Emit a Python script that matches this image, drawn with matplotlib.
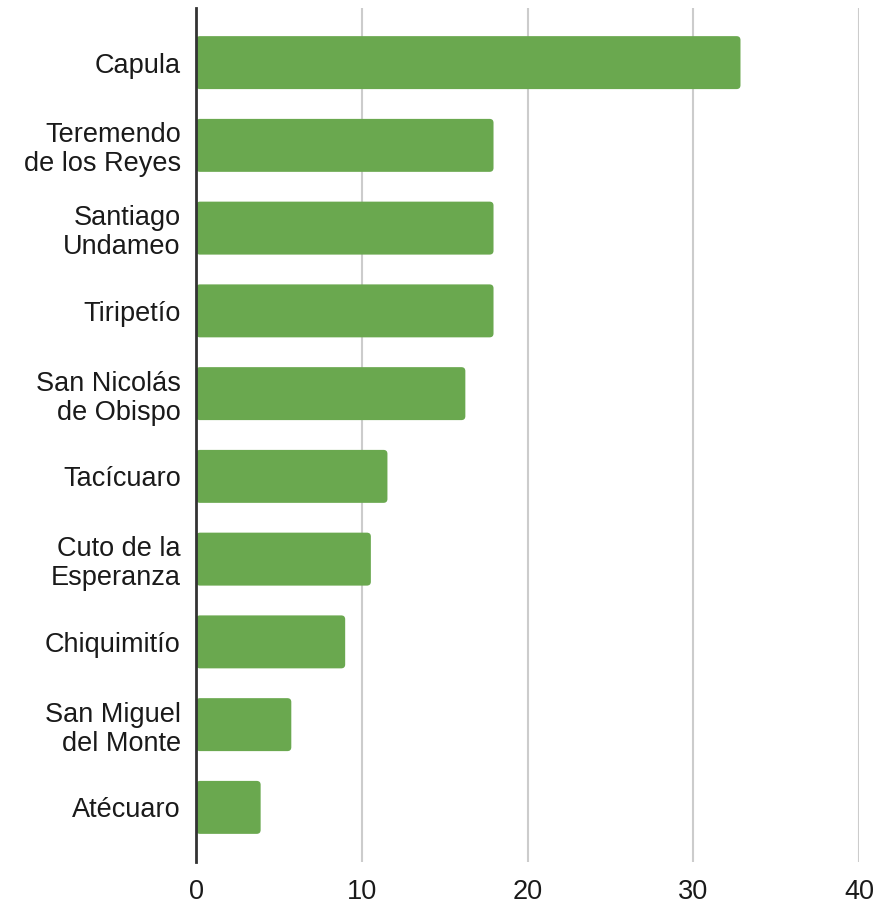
import matplotlib.pyplot as plt
from matplotlib.patches import FancyBboxPatch

localidades = [
    "Capula",
    "Teremendo\nde los Reyes",
    "Santiago\nUndameo",
    "Tiripetío",
    "San Nicolás\nde Obispo",
    "Tacícuaro",
    "Cuto de la\nEsperanza",
    "Chiquimitío",
    "San Miguel\ndel Monte",
    "Atécuaro",
]
valores = [32.85, 17.95, 17.95, 17.95, 16.25, 11.55, 10.55, 9.0, 5.75, 3.9]
xticks = [0, 10, 20, 30, 40]

plt.rcParams["font.family"] = ["Liberation Sans", "DejaVu Sans"]
tam = 19.5

fig = plt.figure(figsize=(8.93, 9.09), dpi=100)
ax = fig.add_axes([196 / 893, 47 / 909, (859 - 196) / 893, (862 - 8) / 909])

pos = list(range(len(localidades)))
barras = ax.barh(pos, valores, height=0.64, color="#6aa84f", zorder=3)

ax.set_xlim(0, 40)
ax.set_ylim(len(localidades) - 0.34, -0.66)

# swap the plain rectangles for ones with slightly rounded corners
bb = ax.get_window_extent()
px_x = bb.width / 40
px_y = bb.height / (len(localidades))
radio = 4 / px_x
for b in barras:
    b.set_visible(False)
    ax.add_patch(FancyBboxPatch(
        (b.get_x(), b.get_y()), b.get_width(), b.get_height(),
        boxstyle=f"round,pad=0,rounding_size={radio}",
        mutation_aspect=px_x / px_y,
        facecolor="#6aa84f", edgecolor="none", zorder=3))

ax.set_xticks(xticks)
ax.set_yticks(pos)
ax.set_yticklabels(localidades, fontsize=tam, color="#1a1a1a", linespacing=1.15)
ax.tick_params(axis="y", length=0, pad=11)
ax.tick_params(axis="x", length=0, pad=12, labelsize=tam, labelcolor="#1a1a1a")

for x in xticks[1:]:
    ax.axvline(x, color="#cccccc", linewidth=1.5, zorder=1)

for side in ["top", "right", "bottom"]:
    ax.spines[side].set_visible(False)
ax.spines["left"].set_color("#333333")
ax.spines["left"].set_linewidth(2)
ax.spines["left"].set_zorder(4)

fig.savefig("out.png", dpi=100)
plt.close(fig)
